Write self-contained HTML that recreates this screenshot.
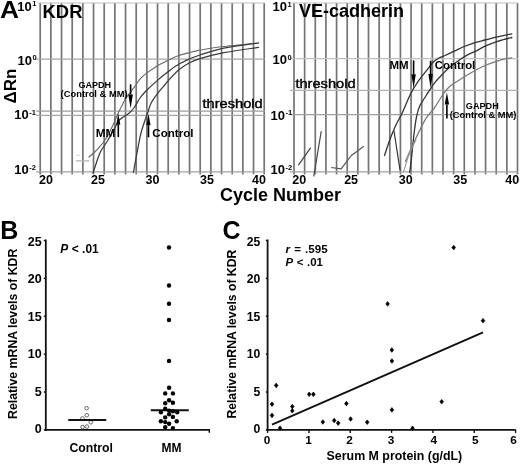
<!DOCTYPE html>
<html><head><meta charset="utf-8"><style>
html,body{margin:0;padding:0;background:#fff;}
body{width:520px;height:466px;overflow:hidden;}
svg{display:block;font-family:"Liberation Sans", sans-serif;will-change:transform;}
</style></head><body>
<svg width="520" height="466" viewBox="0 0 520 466">
<rect width="520" height="466" fill="#fff"/>
<line x1="40.20" y1="3.00" x2="40.20" y2="174.40" stroke="#747474" stroke-width="1.7" />
<line x1="50.87" y1="3.00" x2="50.87" y2="174.40" stroke="#747474" stroke-width="1.7" />
<line x1="61.53" y1="3.00" x2="61.53" y2="174.40" stroke="#747474" stroke-width="1.7" />
<line x1="72.20" y1="3.00" x2="72.20" y2="174.40" stroke="#747474" stroke-width="1.7" />
<line x1="82.87" y1="3.00" x2="82.87" y2="174.40" stroke="#747474" stroke-width="1.7" />
<line x1="93.53" y1="3.00" x2="93.53" y2="174.40" stroke="#747474" stroke-width="1.7" />
<line x1="104.20" y1="3.00" x2="104.20" y2="174.40" stroke="#747474" stroke-width="1.7" />
<line x1="114.87" y1="3.00" x2="114.87" y2="174.40" stroke="#747474" stroke-width="1.7" />
<line x1="125.54" y1="3.00" x2="125.54" y2="174.40" stroke="#747474" stroke-width="1.7" />
<line x1="136.20" y1="3.00" x2="136.20" y2="174.40" stroke="#747474" stroke-width="1.7" />
<line x1="146.87" y1="3.00" x2="146.87" y2="174.40" stroke="#747474" stroke-width="1.7" />
<line x1="157.54" y1="3.00" x2="157.54" y2="174.40" stroke="#747474" stroke-width="1.7" />
<line x1="168.20" y1="3.00" x2="168.20" y2="174.40" stroke="#747474" stroke-width="1.7" />
<line x1="178.87" y1="3.00" x2="178.87" y2="174.40" stroke="#747474" stroke-width="1.7" />
<line x1="189.54" y1="3.00" x2="189.54" y2="174.40" stroke="#747474" stroke-width="1.7" />
<line x1="200.20" y1="3.00" x2="200.20" y2="174.40" stroke="#747474" stroke-width="1.7" />
<line x1="210.87" y1="3.00" x2="210.87" y2="174.40" stroke="#747474" stroke-width="1.7" />
<line x1="221.54" y1="3.00" x2="221.54" y2="174.40" stroke="#747474" stroke-width="1.7" />
<line x1="232.21" y1="3.00" x2="232.21" y2="174.40" stroke="#747474" stroke-width="1.7" />
<line x1="242.87" y1="3.00" x2="242.87" y2="174.40" stroke="#747474" stroke-width="1.7" />
<line x1="253.54" y1="3.00" x2="253.54" y2="174.40" stroke="#747474" stroke-width="1.7" />
<line x1="264.21" y1="3.00" x2="264.21" y2="174.40" stroke="#747474" stroke-width="1.7" />
<line x1="37.70" y1="3.00" x2="264.71" y2="3.00" stroke="#bdbdbd" stroke-width="1.0" />
<line x1="36.20" y1="171.90" x2="264.71" y2="171.90" stroke="#a0a0a0" stroke-width="1.1" />
<line x1="36.20" y1="59.10" x2="264.71" y2="59.10" stroke="#a4a4a4" stroke-width="1.25" />
<line x1="36.20" y1="111.00" x2="265.01" y2="111.00" stroke="#9c9c9c" stroke-width="1.25" />
<line x1="36.20" y1="115.30" x2="264.71" y2="115.30" stroke="#a4a4a4" stroke-width="1.25" />
<line x1="294.00" y1="3.00" x2="294.00" y2="174.40" stroke="#747474" stroke-width="1.7" />
<line x1="304.64" y1="3.00" x2="304.64" y2="174.40" stroke="#747474" stroke-width="1.7" />
<line x1="315.29" y1="3.00" x2="315.29" y2="174.40" stroke="#747474" stroke-width="1.7" />
<line x1="325.93" y1="3.00" x2="325.93" y2="174.40" stroke="#747474" stroke-width="1.7" />
<line x1="336.57" y1="3.00" x2="336.57" y2="174.40" stroke="#747474" stroke-width="1.7" />
<line x1="347.22" y1="3.00" x2="347.22" y2="174.40" stroke="#747474" stroke-width="1.7" />
<line x1="357.86" y1="3.00" x2="357.86" y2="174.40" stroke="#747474" stroke-width="1.7" />
<line x1="368.50" y1="3.00" x2="368.50" y2="174.40" stroke="#747474" stroke-width="1.7" />
<line x1="379.14" y1="3.00" x2="379.14" y2="174.40" stroke="#747474" stroke-width="1.7" />
<line x1="389.79" y1="3.00" x2="389.79" y2="174.40" stroke="#747474" stroke-width="1.7" />
<line x1="400.43" y1="3.00" x2="400.43" y2="174.40" stroke="#747474" stroke-width="1.7" />
<line x1="411.07" y1="3.00" x2="411.07" y2="174.40" stroke="#747474" stroke-width="1.7" />
<line x1="421.72" y1="3.00" x2="421.72" y2="174.40" stroke="#747474" stroke-width="1.7" />
<line x1="432.36" y1="3.00" x2="432.36" y2="174.40" stroke="#747474" stroke-width="1.7" />
<line x1="443.00" y1="3.00" x2="443.00" y2="174.40" stroke="#747474" stroke-width="1.7" />
<line x1="453.64" y1="3.00" x2="453.64" y2="174.40" stroke="#747474" stroke-width="1.7" />
<line x1="464.29" y1="3.00" x2="464.29" y2="174.40" stroke="#747474" stroke-width="1.7" />
<line x1="474.93" y1="3.00" x2="474.93" y2="174.40" stroke="#747474" stroke-width="1.7" />
<line x1="485.57" y1="3.00" x2="485.57" y2="174.40" stroke="#747474" stroke-width="1.7" />
<line x1="496.22" y1="3.00" x2="496.22" y2="174.40" stroke="#747474" stroke-width="1.7" />
<line x1="506.86" y1="3.00" x2="506.86" y2="174.40" stroke="#747474" stroke-width="1.7" />
<line x1="517.50" y1="3.00" x2="517.50" y2="174.40" stroke="#747474" stroke-width="1.7" />
<line x1="291.50" y1="3.00" x2="518.00" y2="3.00" stroke="#bdbdbd" stroke-width="1.0" />
<line x1="290.00" y1="171.90" x2="518.00" y2="171.90" stroke="#a0a0a0" stroke-width="1.1" />
<line x1="290.00" y1="58.70" x2="518.00" y2="58.70" stroke="#c0c0c0" stroke-width="1.25" />
<line x1="290.00" y1="90.40" x2="518.00" y2="90.40" stroke="#b0b0b0" stroke-width="1.25" />
<line x1="290.00" y1="114.60" x2="518.00" y2="114.60" stroke="#a0a0a0" stroke-width="1.25" />
<path d="M76.3,160.8 L89.0,160.8" fill="none" stroke="#b4b4b4" stroke-width="1.2" stroke-linejoin="round" stroke-linecap="round"/>
<path d="M76.3,155.3 L79.3,155.3" fill="none" stroke="#d0d0d0" stroke-width="1.0" stroke-linejoin="round" stroke-linecap="round"/>
<path d="M88.9,157.1 C90.4,155.7 94.9,152.1 97.9,148.8 C100.9,145.5 104.4,141.2 106.9,137.2 C109.4,133.2 111.2,128.8 113.0,125.0 C114.8,121.2 116.1,117.6 117.5,114.5 C118.9,111.4 120.1,109.2 121.5,106.5 C122.9,103.8 123.6,101.7 125.7,98.5 C127.8,95.3 131.9,90.4 134.3,87.2 C136.7,84.0 137.9,81.6 140.0,79.2 C142.1,76.8 144.0,75.1 146.9,72.9 C149.8,70.7 154.1,67.9 157.2,66.0 C160.3,64.1 162.2,63.2 165.7,61.5 C169.2,59.8 174.1,57.3 178.1,55.8 C182.1,54.3 186.3,53.5 189.6,52.6 C192.9,51.7 192.8,51.5 197.7,50.6 C202.6,49.7 209.1,48.3 219.2,47.0 C229.3,45.7 251.9,43.7 258.5,43.0" fill="none" stroke="#6a6a6a" stroke-width="1.15" stroke-linejoin="round" stroke-linecap="round"/>
<path d="M92.9,173.0 C93.4,171.5 94.8,167.5 96.0,164.0 C97.2,160.5 98.4,156.1 100.4,152.0 C102.4,147.9 105.8,143.7 108.2,139.7 C110.6,135.7 112.8,131.4 114.6,128.2 C116.4,125.0 117.6,122.3 119.1,120.4 C120.6,118.5 121.9,118.0 123.6,116.8 C125.2,115.6 127.2,114.8 129.0,113.2 C130.8,111.7 132.5,110.0 134.3,107.5 C136.1,105.0 137.9,100.9 140.0,98.0 C142.1,95.1 144.0,92.9 146.9,90.0 C149.8,87.1 153.6,83.7 157.2,80.6 C160.8,77.5 165.3,73.9 168.3,71.6 C171.3,69.3 172.7,68.1 175.0,66.6 C177.3,65.1 179.6,63.8 182.0,62.5 C184.4,61.2 186.6,60.0 189.6,58.8 C192.6,57.5 194.3,56.8 200.0,55.0 C205.7,53.2 214.1,50.1 223.8,48.1 C233.6,46.1 252.7,43.9 258.5,43.0" fill="none" stroke="#3a3a3a" stroke-width="1.25" stroke-linejoin="round" stroke-linecap="round"/>
<path d="M133.4,172.5 C133.8,170.1 135.2,162.6 136.0,158.0 C136.8,153.4 137.7,149.2 138.5,145.0 C139.3,140.8 140.0,136.9 141.0,133.0 C142.0,129.1 143.3,125.3 144.5,121.8 C145.7,118.3 146.8,115.1 147.9,112.0 C149.0,108.9 149.7,106.0 151.0,103.3 C152.3,100.6 154.3,97.9 155.8,95.8 C157.3,93.7 158.6,92.2 160.1,90.4 C161.6,88.6 163.4,86.6 164.8,85.0 C166.2,83.4 165.9,83.2 168.3,80.6 C170.7,78.0 175.6,72.5 179.2,69.5 C182.8,66.5 186.1,64.5 189.6,62.7 C193.1,60.9 194.3,60.4 200.0,58.7 C205.7,57.0 214.1,54.6 223.8,52.7 C233.6,50.8 252.7,48.3 258.5,47.4" fill="none" stroke="#3a3a3a" stroke-width="1.25" stroke-linejoin="round" stroke-linecap="round"/>
<path d="M298.6,164.8 L310.4,148.2" fill="none" stroke="#444" stroke-width="1.2" stroke-linejoin="round" stroke-linecap="round"/>
<path d="M313.8,176.0 L321.2,131.5" fill="none" stroke="#444" stroke-width="1.2" stroke-linejoin="round" stroke-linecap="round"/>
<polyline points="331.2,167.5 341.2,168.8 351.2,155.5 356.2,152 363.8,146.2" fill="none" stroke="#555" stroke-width="1.2" stroke-linejoin="round"/>
<path d="M394.0,131.0 L400.0,170.0" fill="none" stroke="#333" stroke-width="1.2" stroke-linejoin="round" stroke-linecap="round"/>
<path d="M384.5,155.5 C385.3,153.1 387.6,145.8 389.4,141.0 C391.1,136.2 392.9,131.7 395.0,127.0 C397.1,122.3 399.6,118.5 402.2,113.0 C404.8,107.5 407.7,99.6 410.4,94.2 C413.1,88.8 415.8,84.7 418.5,80.8 C421.2,76.9 424.0,73.8 426.5,70.7 C429.0,67.6 431.2,64.1 433.3,62.0 C435.4,59.9 437.1,59.1 439.0,58.0 C440.9,56.9 442.5,56.6 445.0,55.5 C447.5,54.4 451.0,52.7 454.2,51.2 C457.4,49.7 460.7,47.9 464.2,46.5 C467.7,45.1 471.5,43.8 475.0,42.7 C478.5,41.6 481.2,41.0 485.0,40.0 C488.8,39.0 493.0,37.9 497.5,36.9 C502.0,35.9 509.5,34.3 511.9,33.8" fill="none" stroke="#333" stroke-width="1.3" stroke-linejoin="round" stroke-linecap="round"/>
<path d="M409.7,172.3 C410.0,169.9 411.0,162.7 411.5,158.0 C412.0,153.3 412.4,149.1 412.9,144.4 C413.4,139.7 413.9,134.6 414.5,130.0 C415.1,125.4 415.7,120.9 416.5,117.0 C417.3,113.1 417.8,110.2 419.5,106.5 C421.2,102.8 424.0,99.0 426.5,95.0 C429.0,91.0 432.1,86.0 434.6,82.8 C437.1,79.5 438.8,78.0 441.3,75.5 C443.8,73.0 446.2,70.2 449.4,67.5 C452.6,64.8 457.3,61.4 460.4,59.2 C463.5,57.1 465.4,55.9 468.0,54.6 C470.6,53.3 473.0,52.6 475.8,51.2 C478.6,49.8 481.4,47.9 485.0,46.2 C488.6,44.6 493.0,42.8 497.5,41.3 C502.0,39.8 509.5,38.1 511.9,37.5" fill="none" stroke="#333" stroke-width="1.3" stroke-linejoin="round" stroke-linecap="round"/>
<path d="M405.4,161.5 C407.0,157.9 411.6,147.2 415.0,140.0 C418.4,132.8 422.6,123.9 425.8,118.6 C429.0,113.2 431.4,112.2 434.4,107.9 C437.4,103.6 441.3,96.6 444.0,92.9 C446.7,89.2 448.0,87.8 450.8,85.5 C453.6,83.2 457.0,81.5 461.0,79.0 C465.0,76.5 470.8,72.8 475.0,70.5 C479.2,68.2 482.8,66.5 486.3,65.0 C489.9,63.5 493.2,62.3 496.3,61.3 C499.4,60.3 502.4,59.4 505.0,58.8 C507.6,58.2 510.8,58.0 511.9,57.8" fill="none" stroke="#7a7a7a" stroke-width="1.25" stroke-linejoin="round" stroke-linecap="round"/>
<path d="M403.5,172.0 C404.4,169.2 406.9,160.3 409.0,155.0 C411.1,149.7 414.8,142.5 416.0,140.0" fill="none" stroke="#9a9a9a" stroke-width="1.1" stroke-linejoin="round" stroke-linecap="round"/>
<text x="0.1" y="18.3" font-size="24.5" font-weight="bold" text-anchor="start" fill="#000"  textLength="19.0" lengthAdjust="spacingAndGlyphs">A</text>
<text x="17.3" y="10.6" font-size="13" font-weight="bold">10<tspan font-size="7.5" dx="0.5" dy="-4.5">1</tspan></text>
<text x="17.5" y="64.9" font-size="13" font-weight="bold">10<tspan font-size="7.5" dx="0.5" dy="-4.5">0</tspan></text>
<text x="14.3" y="119.0" font-size="13" font-weight="bold">10<tspan font-size="7.5" dx="0.5" dy="-4.5">-1</tspan></text>
<text x="14.3" y="174.0" font-size="13" font-weight="bold">10<tspan font-size="7.5" dx="0.5" dy="-4.5">-2</tspan></text>
<text x="272.5" y="11.2" font-size="13" font-weight="bold">10<tspan font-size="7.5" dx="0.5" dy="-4.5">1</tspan></text>
<text x="272.5" y="64.4" font-size="13" font-weight="bold">10<tspan font-size="7.5" dx="0.5" dy="-4.5">0</tspan></text>
<text x="270.5" y="119.6" font-size="13" font-weight="bold">10<tspan font-size="7.5" dx="0.5" dy="-4.5">-1</tspan></text>
<text x="270.5" y="174.4" font-size="13" font-weight="bold">10<tspan font-size="7.5" dx="0.5" dy="-4.5">-2</tspan></text>
<text transform="translate(16.0,103.4) rotate(-90)" font-size="17" font-weight="bold">&#916;Rn</text>
<text x="42.6" y="17.9" font-size="18.4" font-weight="bold" text-anchor="start" fill="#000" >KDR</text>
<text x="299" y="17.2" font-size="18" font-weight="bold" text-anchor="start" fill="#000" >VE-cadherin</text>
<text x="202.5" y="108.1" font-size="12.6" font-weight="normal" text-anchor="start" fill="#000" stroke="#000" stroke-width="0.4" textLength="60.2" lengthAdjust="spacingAndGlyphs">threshold</text>
<text x="295.4" y="87.5" font-size="12.6" font-weight="normal" text-anchor="start" fill="#000" stroke="#000" stroke-width="0.4" textLength="60.2" lengthAdjust="spacingAndGlyphs">threshold</text>
<text x="46" y="184.3" font-size="12.5" font-weight="bold" text-anchor="middle" fill="#000" >20</text>
<text x="299.2" y="184.3" font-size="12.5" font-weight="bold" text-anchor="middle" fill="#000" >20</text>
<text x="97.9" y="184.3" font-size="12.5" font-weight="bold" text-anchor="middle" fill="#000" >25</text>
<text x="351.1" y="184.3" font-size="12.5" font-weight="bold" text-anchor="middle" fill="#000" >25</text>
<text x="152.5" y="184.3" font-size="12.5" font-weight="bold" text-anchor="middle" fill="#000" >30</text>
<text x="405.7" y="184.3" font-size="12.5" font-weight="bold" text-anchor="middle" fill="#000" >30</text>
<text x="207" y="184.3" font-size="12.5" font-weight="bold" text-anchor="middle" fill="#000" >35</text>
<text x="460.2" y="184.3" font-size="12.5" font-weight="bold" text-anchor="middle" fill="#000" >35</text>
<text x="259" y="184.3" font-size="12.5" font-weight="bold" text-anchor="middle" fill="#000" >40</text>
<text x="512.2" y="184.3" font-size="12.5" font-weight="bold" text-anchor="middle" fill="#000" >40</text>
<text x="220" y="201" font-size="18" font-weight="bold" text-anchor="start" fill="#000" >Cycle Number</text>
<text x="94.7" y="87.9" font-size="8.6" font-weight="bold" text-anchor="middle" fill="#000"  textLength="32.6" lengthAdjust="spacingAndGlyphs">GAPDH</text>
<text x="94.1" y="97.1" font-size="8.8" font-weight="bold" text-anchor="middle" fill="#000"  textLength="67.0" lengthAdjust="spacingAndGlyphs">(Control &amp; MM)</text>
<line x1="130.60" y1="84.30" x2="130.60" y2="94.40" stroke="#000" stroke-width="1.6" />
<path d="M128.30,94.40 L130.60,108.40 L132.90,94.40 Z" fill="#000"/>
<line x1="118.30" y1="137.20" x2="118.30" y2="124.80" stroke="#000" stroke-width="1.6" />
<path d="M116.30,124.80 L118.30,113.30 L120.30,124.80 Z" fill="#000"/>
<line x1="148.50" y1="137.30" x2="148.50" y2="125.30" stroke="#000" stroke-width="1.6" />
<path d="M146.50,125.30 L148.50,113.80 L150.50,125.30 Z" fill="#000"/>
<text x="95.8" y="136.6" font-size="11.8" font-weight="bold" text-anchor="start" fill="#000" >MM</text>
<text x="152.3" y="136.6" font-size="11.6" font-weight="bold" text-anchor="start" fill="#000" >Control</text>
<text x="389.5" y="69" font-size="11.5" font-weight="bold" text-anchor="start" fill="#000" >MM</text>
<text x="434.8" y="68.8" font-size="11.4" font-weight="bold" text-anchor="start" fill="#000" >Control</text>
<line x1="413.60" y1="60.40" x2="413.60" y2="74.30" stroke="#000" stroke-width="1.6" />
<path d="M411.40,74.30 L413.60,88.30 L415.80,74.30 Z" fill="#000"/>
<line x1="430.60" y1="60.80" x2="430.60" y2="74.00" stroke="#000" stroke-width="1.6" />
<path d="M428.40,74.00 L430.60,88.00 L432.80,74.00 Z" fill="#000"/>
<line x1="446.90" y1="118.50" x2="446.90" y2="104.50" stroke="#000" stroke-width="1.6" />
<path d="M444.70,104.50 L446.90,92.50 L449.10,104.50 Z" fill="#000"/>
<text x="482.3" y="109.1" font-size="8.6" font-weight="bold" text-anchor="middle" fill="#000"  textLength="33.0" lengthAdjust="spacingAndGlyphs">GAPDH</text>
<text x="483.1" y="117.6" font-size="8.8" font-weight="bold" text-anchor="middle" fill="#000"  textLength="66.7" lengthAdjust="spacingAndGlyphs">(Control &amp; MM)</text>
<text x="0.2" y="239.4" font-size="25" font-weight="bold" text-anchor="start" fill="#000" >B</text>
<line x1="45.80" y1="239.50" x2="45.80" y2="430.90" stroke="#111" stroke-width="1.8" />
<line x1="44.80" y1="429.90" x2="210.00" y2="429.90" stroke="#111" stroke-width="1.8" />
<line x1="209.30" y1="429.90" x2="209.30" y2="432.70" stroke="#111" stroke-width="1.4" />
<line x1="43.80" y1="429.90" x2="45.80" y2="429.90" stroke="#111" stroke-width="1.4" />
<text x="41.599999999999994" y="433.22499999999997" font-size="12.5" font-weight="bold" text-anchor="end" fill="#000" >0</text>
<line x1="43.80" y1="392.02" x2="45.80" y2="392.02" stroke="#111" stroke-width="1.4" />
<text x="41.599999999999994" y="395.71999999999997" font-size="12.5" font-weight="bold" text-anchor="end" fill="#000" >5</text>
<line x1="43.80" y1="354.14" x2="45.80" y2="354.14" stroke="#111" stroke-width="1.4" />
<text x="41.599999999999994" y="358.215" font-size="12.5" font-weight="bold" text-anchor="end" fill="#000" >10</text>
<line x1="43.80" y1="316.26" x2="45.80" y2="316.26" stroke="#111" stroke-width="1.4" />
<text x="41.599999999999994" y="320.71" font-size="12.5" font-weight="bold" text-anchor="end" fill="#000" >15</text>
<line x1="43.80" y1="278.38" x2="45.80" y2="278.38" stroke="#111" stroke-width="1.4" />
<text x="41.599999999999994" y="283.205" font-size="12.5" font-weight="bold" text-anchor="end" fill="#000" >20</text>
<line x1="43.80" y1="240.50" x2="45.80" y2="240.50" stroke="#111" stroke-width="1.4" />
<text x="41.599999999999994" y="245.69999999999996" font-size="12.5" font-weight="bold" text-anchor="end" fill="#000" >25</text>
<text transform="translate(17.2,419.0) rotate(-90)" font-size="12.3" font-weight="bold">Relative mRNA levels of KDR</text>
<text x="60.2" y="252.5" font-size="11.9" font-weight="bold" word-spacing="0.2"><tspan font-style="italic">P</tspan> &lt; .01</text>
<text x="91.2" y="452.3" font-size="12" font-weight="bold" text-anchor="middle" fill="#000"  textLength="43.6" lengthAdjust="spacingAndGlyphs">Control</text>
<text x="171.4" y="452.4" font-size="12" font-weight="bold" text-anchor="middle" fill="#000" >MM</text>
<circle cx="86.6" cy="408.2" r="1.8" fill="#fff" stroke="#666" stroke-width="1"/>
<circle cx="86.8" cy="415.2" r="1.8" fill="#fff" stroke="#666" stroke-width="1"/>
<circle cx="82.4" cy="418.4" r="1.8" fill="#fff" stroke="#666" stroke-width="1"/>
<circle cx="90.8" cy="422.3" r="1.8" fill="#fff" stroke="#666" stroke-width="1"/>
<circle cx="82.6" cy="427.0" r="1.8" fill="#fff" stroke="#666" stroke-width="1"/>
<circle cx="86.9" cy="426.6" r="1.8" fill="#fff" stroke="#666" stroke-width="1"/>
<line x1="68.30" y1="419.90" x2="106.20" y2="419.90" stroke="#111" stroke-width="2.0" />
<line x1="150.80" y1="410.20" x2="188.80" y2="410.20" stroke="#111" stroke-width="2.0" />
<circle cx="169" cy="247.5" r="2.2" fill="#000"/>
<circle cx="169" cy="285.5" r="2.2" fill="#000"/>
<circle cx="169" cy="303.7" r="2.2" fill="#000"/>
<circle cx="169" cy="320" r="2.2" fill="#000"/>
<circle cx="169" cy="360.9" r="2.2" fill="#000"/>
<circle cx="169.1" cy="387.7" r="2.2" fill="#000"/>
<circle cx="165.2" cy="393.4" r="2.2" fill="#000"/>
<circle cx="172.9" cy="393.4" r="2.2" fill="#000"/>
<circle cx="169.1" cy="400.3" r="2.2" fill="#000"/>
<circle cx="165.2" cy="403.2" r="2.2" fill="#000"/>
<circle cx="172.9" cy="402.7" r="2.2" fill="#000"/>
<circle cx="165.2" cy="408.8" r="2.2" fill="#000"/>
<circle cx="169.1" cy="410.6" r="2.2" fill="#000"/>
<circle cx="160.9" cy="412.3" r="2.2" fill="#000"/>
<circle cx="172.9" cy="411.2" r="2.2" fill="#000"/>
<circle cx="177.2" cy="412.3" r="2.2" fill="#000"/>
<circle cx="169.1" cy="414.3" r="2.2" fill="#000"/>
<circle cx="165.2" cy="417.4" r="2.2" fill="#000"/>
<circle cx="172.9" cy="416.9" r="2.2" fill="#000"/>
<circle cx="160.9" cy="421.2" r="2.2" fill="#000"/>
<circle cx="165.2" cy="422.1" r="2.2" fill="#000"/>
<circle cx="169.1" cy="423.8" r="2.2" fill="#000"/>
<circle cx="176.7" cy="421.2" r="2.2" fill="#000"/>
<circle cx="165.2" cy="427.2" r="2.2" fill="#000"/>
<circle cx="172.9" cy="428.1" r="2.2" fill="#000"/>
<text x="222.5" y="239.2" font-size="25" font-weight="bold" text-anchor="start" fill="#000" >C</text>
<line x1="267.60" y1="239.50" x2="267.60" y2="430.90" stroke="#111" stroke-width="1.8" />
<line x1="266.60" y1="429.90" x2="515.80" y2="429.90" stroke="#111" stroke-width="1.8" />
<line x1="265.80" y1="429.90" x2="267.60" y2="429.90" stroke="#111" stroke-width="1.4" />
<text x="260.40000000000003" y="433.025" font-size="12.2" font-weight="bold" text-anchor="end" fill="#000" >0</text>
<line x1="265.80" y1="392.02" x2="267.60" y2="392.02" stroke="#111" stroke-width="1.4" />
<text x="260.40000000000003" y="395.52" font-size="12.2" font-weight="bold" text-anchor="end" fill="#000" >5</text>
<line x1="265.80" y1="354.14" x2="267.60" y2="354.14" stroke="#111" stroke-width="1.4" />
<text x="260.40000000000003" y="358.015" font-size="12.2" font-weight="bold" text-anchor="end" fill="#000" >10</text>
<line x1="265.80" y1="316.26" x2="267.60" y2="316.26" stroke="#111" stroke-width="1.4" />
<text x="260.40000000000003" y="320.51" font-size="12.2" font-weight="bold" text-anchor="end" fill="#000" >15</text>
<line x1="265.80" y1="278.38" x2="267.60" y2="278.38" stroke="#111" stroke-width="1.4" />
<text x="260.40000000000003" y="283.005" font-size="12.2" font-weight="bold" text-anchor="end" fill="#000" >20</text>
<line x1="265.80" y1="240.50" x2="267.60" y2="240.50" stroke="#111" stroke-width="1.4" />
<text x="260.40000000000003" y="245.49999999999997" font-size="12.2" font-weight="bold" text-anchor="end" fill="#000" >25</text>
<line x1="267.60" y1="429.90" x2="267.60" y2="432.90" stroke="#111" stroke-width="1.4" />
<text x="267.1" y="443.8" font-size="11.8" font-weight="bold" text-anchor="middle" fill="#000" >0</text>
<line x1="308.93" y1="429.90" x2="308.93" y2="432.90" stroke="#111" stroke-width="1.4" />
<text x="308.53000000000003" y="443.8" font-size="11.8" font-weight="bold" text-anchor="middle" fill="#000" >1</text>
<line x1="350.26" y1="429.90" x2="350.26" y2="432.90" stroke="#111" stroke-width="1.4" />
<text x="349.46" y="443.8" font-size="11.8" font-weight="bold" text-anchor="middle" fill="#000" >2</text>
<line x1="391.59" y1="429.90" x2="391.59" y2="432.90" stroke="#111" stroke-width="1.4" />
<text x="390.99" y="443.8" font-size="11.8" font-weight="bold" text-anchor="middle" fill="#000" >3</text>
<line x1="432.92" y1="429.90" x2="432.92" y2="432.90" stroke="#111" stroke-width="1.4" />
<text x="433.72" y="443.8" font-size="11.8" font-weight="bold" text-anchor="middle" fill="#000" >4</text>
<line x1="474.25" y1="429.90" x2="474.25" y2="432.90" stroke="#111" stroke-width="1.4" />
<text x="475.25" y="443.8" font-size="11.8" font-weight="bold" text-anchor="middle" fill="#000" >5</text>
<line x1="515.58" y1="429.90" x2="515.58" y2="432.90" stroke="#111" stroke-width="1.4" />
<text x="513.58" y="443.8" font-size="11.8" font-weight="bold" text-anchor="middle" fill="#000" >6</text>
<text transform="translate(235.7,418.6) rotate(-90)" font-size="12.2" font-weight="bold">Relative mRNA levels of KDR</text>
<text x="285.4" y="252.9" font-size="11.6" font-weight="bold" word-spacing="1"><tspan font-style="italic">r</tspan> = .595</text>
<text x="285.4" y="266.4" font-size="11.4" font-weight="bold" word-spacing="0.5"><tspan font-style="italic">P</tspan> &lt; .01</text>
<text x="326.6" y="460.3" font-size="12.2" font-weight="bold" text-anchor="start" fill="#000"  textLength="135.6" lengthAdjust="spacingAndGlyphs">Serum M protein (g/dL)</text>
<line x1="272.00" y1="424.60" x2="483.00" y2="332.40" stroke="#111" stroke-width="1.9" />
<path d="M453.70,245.30 L455.50,247.60 L453.70,249.90 L451.90,247.60 Z" fill="#000" stroke="#000" stroke-width="0.7" stroke-linejoin="round"/>
<path d="M387.60,301.60 L389.40,303.90 L387.60,306.20 L385.80,303.90 Z" fill="#000" stroke="#000" stroke-width="0.7" stroke-linejoin="round"/>
<path d="M483.00,318.40 L484.80,320.70 L483.00,323.00 L481.20,320.70 Z" fill="#000" stroke="#000" stroke-width="0.7" stroke-linejoin="round"/>
<path d="M391.80,347.70 L393.60,350.00 L391.80,352.30 L390.00,350.00 Z" fill="#000" stroke="#000" stroke-width="0.7" stroke-linejoin="round"/>
<path d="M391.90,358.70 L393.70,361.00 L391.90,363.30 L390.10,361.00 Z" fill="#000" stroke="#000" stroke-width="0.7" stroke-linejoin="round"/>
<path d="M391.90,407.60 L393.70,409.90 L391.90,412.20 L390.10,409.90 Z" fill="#000" stroke="#000" stroke-width="0.7" stroke-linejoin="round"/>
<path d="M441.70,399.40 L443.50,401.70 L441.70,404.00 L439.90,401.70 Z" fill="#000" stroke="#000" stroke-width="0.7" stroke-linejoin="round"/>
<path d="M412.50,425.90 L414.30,428.20 L412.50,430.50 L410.70,428.20 Z" fill="#000" stroke="#000" stroke-width="0.7" stroke-linejoin="round"/>
<path d="M276.20,383.10 L278.00,385.40 L276.20,387.70 L274.40,385.40 Z" fill="#000" stroke="#000" stroke-width="0.7" stroke-linejoin="round"/>
<path d="M272.00,401.90 L273.80,404.20 L272.00,406.50 L270.20,404.20 Z" fill="#000" stroke="#000" stroke-width="0.7" stroke-linejoin="round"/>
<path d="M272.00,413.10 L273.80,415.40 L272.00,417.70 L270.20,415.40 Z" fill="#000" stroke="#000" stroke-width="0.7" stroke-linejoin="round"/>
<path d="M280.00,425.90 L281.80,428.20 L280.00,430.50 L278.20,428.20 Z" fill="#000" stroke="#000" stroke-width="0.7" stroke-linejoin="round"/>
<path d="M292.30,404.30 L294.10,406.60 L292.30,408.90 L290.50,406.60 Z" fill="#000" stroke="#000" stroke-width="0.7" stroke-linejoin="round"/>
<path d="M292.30,408.50 L294.10,410.80 L292.30,413.10 L290.50,410.80 Z" fill="#000" stroke="#000" stroke-width="0.7" stroke-linejoin="round"/>
<path d="M309.20,392.00 L311.00,394.30 L309.20,396.60 L307.40,394.30 Z" fill="#000" stroke="#000" stroke-width="0.7" stroke-linejoin="round"/>
<path d="M313.40,392.00 L315.20,394.30 L313.40,396.60 L311.60,394.30 Z" fill="#000" stroke="#000" stroke-width="0.7" stroke-linejoin="round"/>
<path d="M322.80,419.70 L324.60,422.00 L322.80,424.30 L321.00,422.00 Z" fill="#000" stroke="#000" stroke-width="0.7" stroke-linejoin="round"/>
<path d="M334.20,418.20 L336.00,420.50 L334.20,422.80 L332.40,420.50 Z" fill="#000" stroke="#000" stroke-width="0.7" stroke-linejoin="round"/>
<path d="M338.20,420.80 L340.00,423.10 L338.20,425.40 L336.40,423.10 Z" fill="#000" stroke="#000" stroke-width="0.7" stroke-linejoin="round"/>
<path d="M346.40,401.30 L348.20,403.60 L346.40,405.90 L344.60,403.60 Z" fill="#000" stroke="#000" stroke-width="0.7" stroke-linejoin="round"/>
<path d="M350.60,416.70 L352.40,419.00 L350.60,421.30 L348.80,419.00 Z" fill="#000" stroke="#000" stroke-width="0.7" stroke-linejoin="round"/>
<path d="M367.20,419.90 L369.00,422.20 L367.20,424.50 L365.40,422.20 Z" fill="#000" stroke="#000" stroke-width="0.7" stroke-linejoin="round"/>
</svg>
</body></html>
